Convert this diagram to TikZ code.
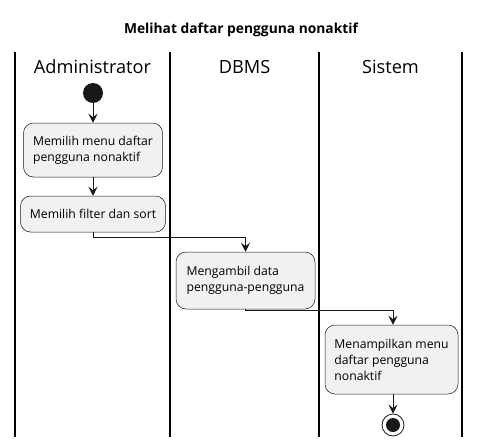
\documentclass[tikz,border=0pt]{standalone}
\usepackage{fontspec}
\setmainfont{Open Sans}
\usetikzlibrary{arrows.meta}
\definecolor{actfill}{HTML}{F1F1F1}
\definecolor{actline}{HTML}{181818}
\tikzset{
  lane/.style={line width=1.5pt, black},
  act/.style={draw=actline, fill=actfill, line width=0.5pt, rounded corners=10pt,
    align=left, inner sep=0pt, font=\fontsize{12.2}{16}\selectfont},
  flow/.style={actline, line width=0.8pt, -{Stealth[length=9pt,width=9pt,inset=3.5pt]}},
  lanehead/.style={font=\fontsize{18.2}{20}\selectfont}
}
\begin{document}
\begin{tikzpicture}[x=1pt,y=-1pt]
    \useasboundingbox (0,0) rectangle (481,447);
    % title
    \node (title) at (241,30) {\fontsize{13.8}{16}\selectfont\bfseries Melihat daftar pengguna nonaktif};
    % swimlanes
    \draw[lane] (15,52) -- (15,437);
    \draw[lane] (170,52) -- (170,437);
    \draw[lane] (319,52) -- (319,437);
    \draw[lane] (462,52) -- (462,437);
    \node[lanehead] (hadmin) at (92.5,67) {Administrator};
    \node[lanehead] (hdbms) at (244.5,67) {DBMS};
    \node[lanehead] (hsistem) at (390.5,67) {Sistem};
    % activities
    \node[circle, fill=actline, minimum size=20pt, inner sep=0pt] (start) at (93,93) {};
    \node[act, minimum width=139pt, minimum height=54pt] (menu) at (93,150) {Memilih menu daftar\\pengguna nonaktif};
    \node[act, minimum width=145pt, minimum height=36pt] (filter) at (93,214) {Memilih filter dan sort};
    \node[act, minimum width=139pt, minimum height=57pt] (ambil) at (245.5,280.5) {Mengambil data\\pengguna-pengguna};
    \node[act, minimum width=133pt, minimum height=69pt] (tampil) at (391.5,359.5) {Menampilkan menu\\daftar pengguna\\nonaktif};
    \node[circle, draw=actline, line width=0.8pt, fill=white, minimum size=22pt, inner sep=0pt] (stop) at (393,425) {};
    \fill[actline] (stop.center) circle (7pt);
    % flows
    \draw[flow] (start) -- (menu);
    \draw[flow] (menu) -- (filter);
    \draw[flow] (filter.south) -- ++(0,5.5) -| (ambil.north);
    \draw[flow] (ambil.south) -- ++(0,1) -| ([xshift=1.5pt]tampil.north);
    \draw[flow] ([xshift=1.5pt]tampil.south) -- (stop);
\end{tikzpicture}
\end{document}
